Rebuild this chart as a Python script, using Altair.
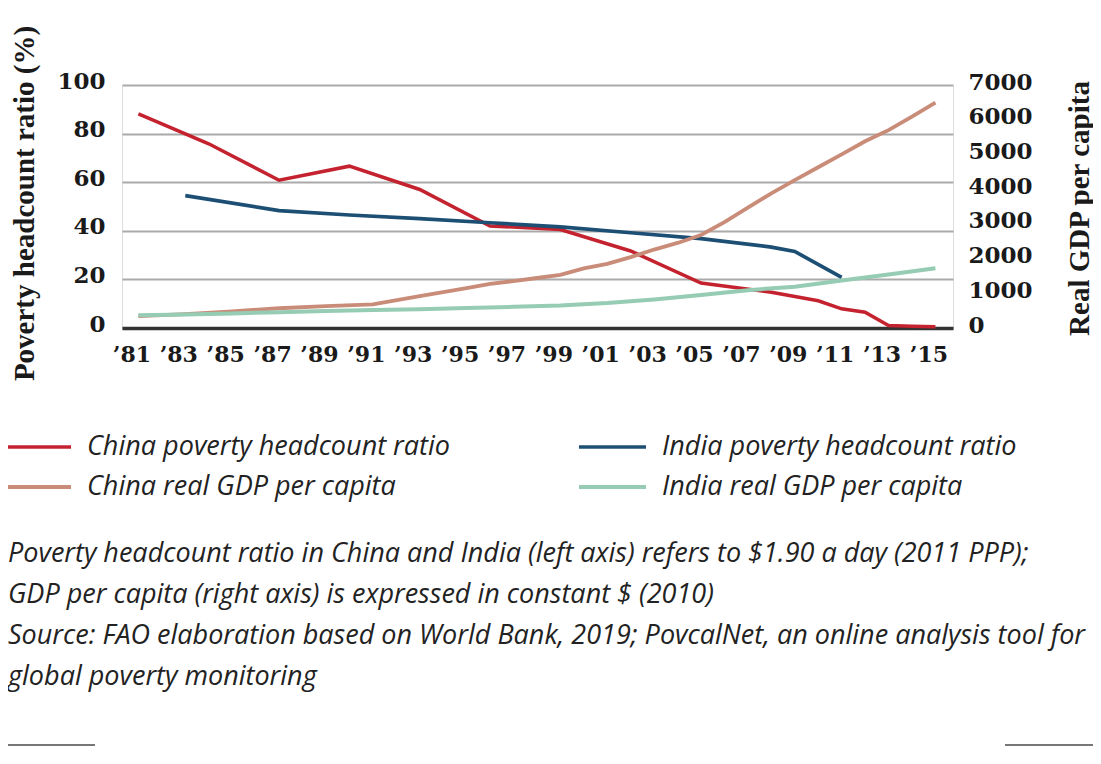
import altair as alt
import pandas as pd

series_names = ["China poverty headcount ratio", "India poverty headcount ratio",
                "China real GDP per capita", "India real GDP per capita"]
series_colors = ["#c4222e", "#1c4f73", "#c98c79", "#95ccb3"]
series_widths = [3.5, 4, 3, 3]

china_pov_years = [1981, 1984, 1987, 1990, 1993, 1996, 1999, 2002, 2005, 2008, 2010, 2011, 2012, 2013, 2014, 2015]
china_pov = [88.1, 75.8, 60.8, 66.6, 57.0, 42.0, 40.5, 31.7, 18.5, 14.7, 11.2, 7.9, 6.5, 1.0, 0.7, 0.5]

india_pov_years = [1983, 1987, 1990, 1993, 1996, 1999, 2002, 2005, 2008, 2009, 2011]
india_pov = [54.5, 48.3, 46.5, 45.0, 43.3, 41.6, 39.2, 36.8, 33.3, 31.5, 20.8]

china_gdp_years = [1981, 1983, 1985, 1987, 1989, 1991, 1993, 1995, 1996, 1997, 1998, 1999, 2000,
                   2001, 2002, 2003, 2004, 2005, 2006, 2007, 2008, 2009, 2010, 2011, 2012, 2013, 2014, 2015]
china_gdp = [340, 400, 480, 570, 630, 680, 920, 1150, 1270, 1350, 1440, 1530, 1720,
             1850, 2040, 2260, 2450, 2680, 3050, 3470, 3880, 4260, 4630, 5000, 5380, 5700, 6090, 6490]

india_gdp_years = [1981, 1983, 1985, 1987, 1989, 1991, 1993, 1995, 1997, 1999, 2001, 2003, 2005,
                   2007, 2009, 2011, 2013, 2015]
india_gdp = [370, 390, 420, 455, 490, 515, 540, 575, 610, 650, 720, 820, 950,
             1090, 1190, 1370, 1540, 1720]

x_ticks = list(range(1981, 2016, 2))
left_ticks = [0, 20, 40, 60, 80, 100]
right_ticks = [0, 1000, 2000, 3000, 4000, 5000, 6000, 7000]

notes = [
    "Poverty headcount ratio in China and India (left axis) refers to $1.90 a day (2011 PPP);",
    "GDP per capita (right axis) is expressed in constant $ (2010)",
    "Source: FAO elaboration based on World Bank, 2019; PovcalNet, an online analysis tool for",
    "global poverty monitoring",
]

pov = pd.DataFrame(
    [{"year": y, "value": v, "series": series_names[0]} for y, v in zip(china_pov_years, china_pov)]
    + [{"year": y, "value": v, "series": series_names[1]} for y, v in zip(india_pov_years, india_pov)]
)
gdp = pd.DataFrame(
    [{"year": y, "value": v, "series": series_names[2]} for y, v in zip(china_gdp_years, china_gdp)]
    + [{"year": y, "value": v, "series": series_names[3]} for y, v in zip(india_gdp_years, india_gdp)]
)
note_df = pd.DataFrame({"t": ["\n".join(notes)]})

W, H = 831, 243
PAD_L, PAD_T = 114, 77

xaxis = alt.Axis(values=x_ticks, labelExpr="'\u2019' + substring(toString(datum.value), 2)",
                 grid=False, ticks=False, domain=True, domainColor="#333333", domainWidth=3.5,
                 labelFont="DejaVu Serif", labelFontWeight="bold", labelFontSize=22,
                 labelColor="#1a1a1a", labelPadding=16, labelOffset=-7, title=None,
                 labelFlush=False, labelOverlap=False)
xscale = alt.Scale(domain=[1980.3, 2015.75], nice=False, zero=False)

color = alt.Color("series:N", scale=alt.Scale(domain=series_names, range=series_colors),
                  legend=alt.Legend(orient="none", legendX=-PAD_L - 6, legendY=347, columns=2,
                                    direction="horizontal", values=series_names,
                                    symbolType="stroke", symbolSize=4489, symbolStrokeWidth=7,
                                    labelFont="Open Sans", labelFontStyle="italic", labelFontSize=27,
                                    labelColor="#222222", labelOffset=14, columnPadding=127,
                                    rowPadding=10, clipHeight=30, title=None, labelLimit=0))
swidth = alt.StrokeWidth("series:N", scale=alt.Scale(domain=series_names, range=series_widths), legend=None)

left = alt.Chart(pov).mark_line().encode(
    x=alt.X("year:Q", scale=xscale, axis=xaxis),
    y=alt.Y("value:Q", scale=alt.Scale(domain=[0, 100], nice=False),
            axis=alt.Axis(values=left_ticks, orient="left", grid=True, gridColor="#aaaaaa", gridWidth=2,
                          domain=False, ticks=False, labelFont="DejaVu Serif", labelFontWeight="bold",
                          labelFontSize=23, labelColor="#1a1a1a", labelPadding=17, labelOffset=-4,
                          title="Poverty headcount ratio (%)", titleFont="Liberation Serif",
                          titleFontSize=29, titleFontWeight="bold", titleColor="#1a1a1a",
                          titleX=-98, titleY=118, titleAngle=270, titleAlign="center",
                          titleBaseline="middle")),
    color=color,
    strokeWidth=swidth,
    order=alt.Order("year:Q"),
)

right = alt.Chart(gdp).mark_line().encode(
    x=alt.X("year:Q", scale=xscale, axis=xaxis),
    y=alt.Y("value:Q", scale=alt.Scale(domain=[0, 7000], nice=False),
            axis=alt.Axis(values=right_ticks, format="d", orient="right", grid=False, domain=False,
                          ticks=False, labelFont="DejaVu Serif", labelFontWeight="bold", labelFontSize=23,
                          labelColor="#1a1a1a", labelPadding=15, labelOffset=-3,
                          title="Real GDP per capita", titleFont="Liberation Serif",
                          titleFontSize=29, titleFontWeight="bold", titleColor="#1a1a1a",
                          titleX=126, titleY=123, titleAngle=270, titleAlign="center",
                          titleBaseline="middle")),
    color=color,
    strokeWidth=swidth,
    order=alt.Order("year:Q"),
)

note = alt.Chart(note_df).mark_text(lineBreak="\n", lineHeight=41, align="left", baseline="alphabetic",
                                    font="Open Sans", fontStyle="italic", fontSize=27, color="#222222").encode(
    text="t:N", x=alt.value(-PAD_L), y=alt.value(477))

rule_l = alt.Chart(note_df).mark_rule(color="#777777", strokeWidth=2).encode(
    x=alt.value(-PAD_L), x2=alt.value(-PAD_L + 87), y=alt.value(660))
rule_r = alt.Chart(note_df).mark_rule(color="#777777", strokeWidth=2).encode(
    x=alt.value(883), x2=alt.value(975), y=alt.value(660))

chart = alt.layer(left, right, note, rule_l, rule_r).resolve_scale(y="independent").properties(
    width=W, height=H,
    autosize=alt.AutoSizeParams(type="none"),
    padding={"left": PAD_L, "top": PAD_T, "right": 140, "bottom": 420},
).configure_view(stroke=None).configure(background="white")

chart.save("out.html", embed_options={"renderer": "svg", "actions": False})
